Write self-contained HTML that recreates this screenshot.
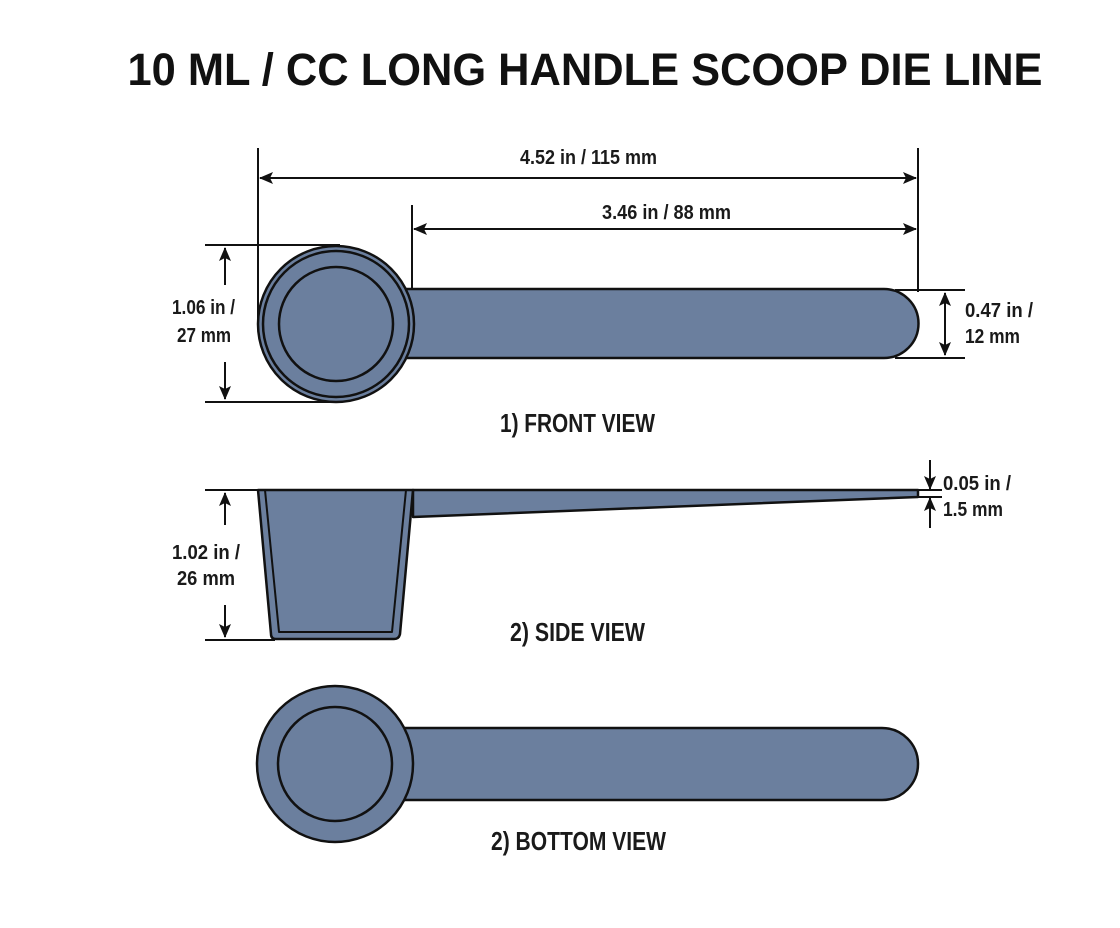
<!DOCTYPE html>
<html><head><meta charset="utf-8">
<style>
html,body{margin:0;padding:0;background:#fff;}
svg{display:block;}
.t{font-family:"Liberation Sans",sans-serif;font-weight:bold;fill:#1a1a1a;}
</style></head>
<body>
<svg width="1120" height="928" viewBox="0 0 1120 928" xmlns="http://www.w3.org/2000/svg">
<defs>
<marker id="ah" viewBox="0 0 14 12" refX="13" refY="6" markerWidth="14" markerHeight="12" markerUnits="userSpaceOnUse" orient="auto-start-reverse">
<path d="M0,0 L14,6 L0,12 L3,6 Z" fill="#111"/>
</marker>
</defs>
<text x="585" y="85" text-anchor="middle" font-family="Liberation Sans, sans-serif" font-weight="bold" font-size="45" fill="#111" textLength="915" lengthAdjust="spacingAndGlyphs">10 ML / CC LONG HANDLE SCOOP DIE LINE</text>

<g stroke="#111" stroke-width="2" fill="none">
<line x1="258" y1="148" x2="258" y2="320"/>
<line x1="918" y1="148" x2="918" y2="292"/>
<line x1="412" y1="205" x2="412" y2="289"/>
<line x1="260" y1="178" x2="916" y2="178" marker-start="url(#ah)" marker-end="url(#ah)"/>
<line x1="414" y1="229" x2="916" y2="229" marker-start="url(#ah)" marker-end="url(#ah)"/>
<line x1="205" y1="245" x2="340" y2="245"/>
<line x1="205" y1="402" x2="340" y2="402"/>
<line x1="225" y1="285" x2="225" y2="248" marker-end="url(#ah)"/>
<line x1="225" y1="362" x2="225" y2="399" marker-end="url(#ah)"/>
<line x1="895" y1="290" x2="965" y2="290"/>
<line x1="895" y1="358" x2="965" y2="358"/>
<line x1="945" y1="293" x2="945" y2="355" marker-start="url(#ah)" marker-end="url(#ah)"/>
</g>

<g stroke="#111" stroke-width="2.5" fill="#6b7f9e">
<path d="M405,289 H884 A34,34 0 0 1 884,358 H405 Z"/>
<circle cx="336" cy="324" r="78"/>
<circle cx="336" cy="324" r="73" fill="none"/>
<circle cx="336" cy="324" r="57"/>
</g>

<text class="t" x="172" y="314" font-size="20" textLength="63" lengthAdjust="spacingAndGlyphs">1.06 in /</text>
<text class="t" x="177" y="342" font-size="20" textLength="54" lengthAdjust="spacingAndGlyphs">27 mm</text>
<text class="t" x="520" y="164" font-size="20" textLength="137" lengthAdjust="spacingAndGlyphs">4.52 in / 115 mm</text>
<text class="t" x="602" y="219" font-size="20" textLength="129" lengthAdjust="spacingAndGlyphs">3.46 in / 88 mm</text>
<text class="t" x="965" y="317" font-size="20" textLength="68" lengthAdjust="spacingAndGlyphs">0.47 in /</text>
<text class="t" x="965" y="343" font-size="20" textLength="55" lengthAdjust="spacingAndGlyphs">12 mm</text>
<text class="t" x="500" y="432" font-size="26" textLength="155" lengthAdjust="spacingAndGlyphs">1) FRONT VIEW</text>

<g stroke="#111" stroke-width="2" fill="none">
<line x1="205" y1="490" x2="260" y2="490"/>
<line x1="205" y1="640" x2="275" y2="640"/>
<line x1="225" y1="525" x2="225" y2="493" marker-end="url(#ah)"/>
<line x1="225" y1="605" x2="225" y2="637" marker-end="url(#ah)"/>
<line x1="918" y1="490" x2="942" y2="490"/>
<line x1="918" y1="497" x2="942" y2="497"/>
<line x1="930" y1="460" x2="930" y2="489" marker-end="url(#ah)"/>
<line x1="930" y1="528" x2="930" y2="498" marker-end="url(#ah)"/>
</g>
<g stroke="#111" stroke-width="2.5" fill="#6b7f9e" stroke-linejoin="round">
<path d="M413,490 H918 V497 L413,517 Z"/>
<path d="M258,490 H413 L400,634 Q399,639 394,639 H276 Q271,639 271,634 Z"/>
<path d="M265,490 L279,632 H392 L406,490" fill="none" stroke-width="2"/>
</g>
<text class="t" x="172" y="559" font-size="20" textLength="68" lengthAdjust="spacingAndGlyphs">1.02 in /</text>
<text class="t" x="177" y="585" font-size="20" textLength="58" lengthAdjust="spacingAndGlyphs">26 mm</text>
<text class="t" x="943" y="490" font-size="20" textLength="68" lengthAdjust="spacingAndGlyphs">0.05 in /</text>
<text class="t" x="943" y="516" font-size="20" textLength="60" lengthAdjust="spacingAndGlyphs">1.5 mm</text>
<text class="t" x="510" y="641" font-size="26" textLength="135" lengthAdjust="spacingAndGlyphs">2) SIDE VIEW</text>

<g stroke="#111" stroke-width="2.5" fill="#6b7f9e">
<path d="M400,728 H882 A36,36 0 0 1 882,800 H400 Z"/>
<circle cx="335" cy="764" r="78"/>
<circle cx="335" cy="764" r="57"/>
</g>
<text class="t" x="491" y="850" font-size="26" textLength="175" lengthAdjust="spacingAndGlyphs">2) BOTTOM VIEW</text>
</svg>
</body></html>
